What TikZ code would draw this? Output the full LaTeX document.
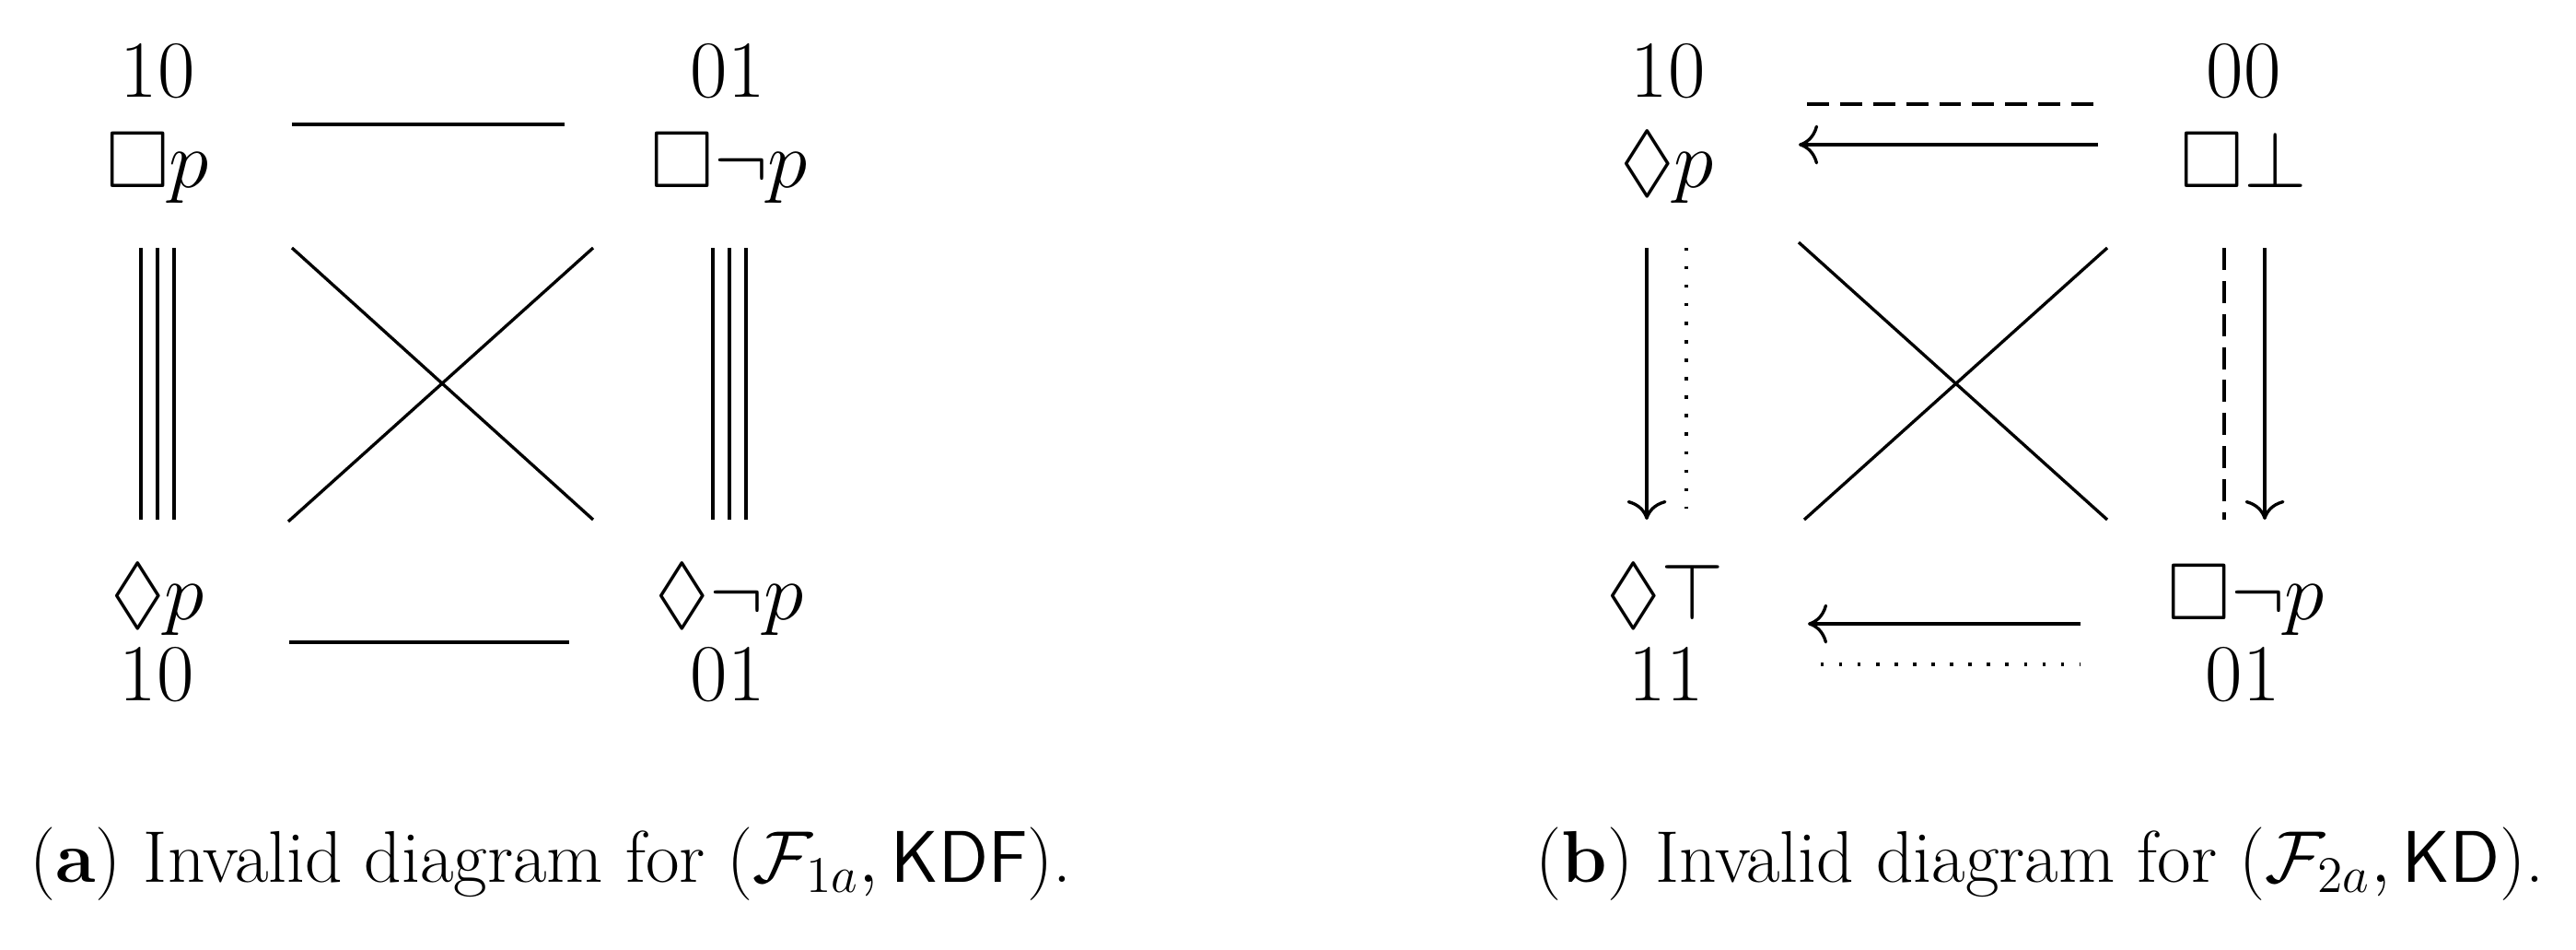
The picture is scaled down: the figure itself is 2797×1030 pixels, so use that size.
\RequirePackage{fix-cm}
\documentclass[tikz,border=0pt]{standalone}
\usepackage{amssymb}
\usepackage{fontspec}
\usetikzlibrary{arrows.meta}
\tikzset{
  lbl/.style={anchor=base, inner sep=0pt, font=\fontsize{25}{29}\selectfont},
  captxt/.style={anchor=base, inner sep=0pt, font=\fontsize{22.6}{26}\selectfont},
  conn/.style={line width=0.95pt, line cap=butt},
  arr/.style={conn, -{To[length=6pt,width=12.2pt,line width=0.95pt]}},
  dashy/.style={conn, dash pattern=on 6.8pt off 3.4pt},
  dotty/.style={conn, dash pattern=on 0.95pt off 4.75pt}
}
\begin{document}
\begin{tikzpicture}[x=0.01cm,y=-0.01cm]
\useasboundingbox (0,0) rectangle (2797,1030);
% ---------- diagram (a) ----------
\node[lbl] (an1) at (171,105) {10};
\node[lbl] (af1) at (171,203) {$\Box p$};
\node[lbl] (an2) at (790,105) {01};
\node[lbl] (af2) at (792,203) {$\Box\neg p$};
\node[lbl] (af3) at (171,672) {$\lozenge p$};
\node[lbl] (an3) at (170,760) {10};
\node[lbl] (af4) at (792,672) {$\lozenge\neg p$};
\node[lbl] (an4) at (790,760) {01};
\coordinate (A1) at (171,203);
\coordinate (A2) at (792,203);
\coordinate (A3) at (171,672);
\coordinate (A4) at (792,672);
\draw[conn] ([shift={(146,-68)}]af1.base -| A1) -- ([shift={(-179,-68)}]af2.base -| A2);
\draw[conn] ([shift={(143,25)}]af3.base -| A3) -- ([shift={(-174,25)}]af4.base -| A4);
\foreach \d in {-18,0,18}{
  \draw[conn] ([shift={(\d,66)}]af1.base -| A1) -- ([shift={(\d,-108)}]af3.base -| A3);
  \draw[conn] ([shift={(\d,66)}]af2.base -| A2) -- ([shift={(\d,-108)}]af4.base -| A4);
}
\draw[conn] ([shift={(146,66)}]af1.base -| A1) -- ([shift={(-148,-108)}]af4.base -| A4);
\draw[conn] ([shift={(142,-106)}]af3.base -| A3) -- ([shift={(-148,66)}]af2.base -| A2);
% ---------- diagram (b) ----------
\node[lbl] (bn1) at (1811,105) {10};
\node[lbl] (bf1) at (1810,203) {$\lozenge p$};
\node[lbl] (bn2) at (2436,105) {00};
\node[lbl] (bf2) at (2436,203) {$\Box\bot$};
\node[lbl] (bf3) at (1808,672) {$\lozenge\top$};
\node[lbl] (bn3) at (1809,760) {11};
\node[lbl] (bf4) at (2439,672) {$\Box\neg p$};
\node[lbl] (bn4) at (2435,760) {01};
\coordinate (B1) at (1809,203);
\coordinate (B2) at (2437,203);
\coordinate (B3) at (1809,672);
\coordinate (B4) at (2437,672);
\draw[dashy] ([shift={(153,-90)}]bf1.base -| B1) -- ([shift={(-159,-90)}]bf2.base -| B2);
\draw[arr] ([shift={(-159,-46)}]bf2.base -| B2) -- ([shift={(144,-46)}]bf1.base -| B1);
\draw[arr] ([shift={(-21,66)}]bf1.base -| B1) -- ([shift={(-21,-108)}]bf3.base -| B3);
\draw[dotty] ([shift={(22,66)}]bf1.base -| B1) -- ([shift={(22,-120)}]bf3.base -| B3);
\draw[conn] ([shift={(144,60)}]bf1.base -| B1) -- ([shift={(-149,-108)}]bf4.base -| B4);
\draw[conn] ([shift={(150,-108)}]bf3.base -| B3) -- ([shift={(-149,66)}]bf2.base -| B2);
\draw[dashy] ([shift={(-22,66)}]bf2.base -| B2) -- ([shift={(-22,-108)}]bf4.base -| B4);
\draw[arr] ([shift={(22,66)}]bf2.base -| B2) -- ([shift={(22,-108)}]bf4.base -| B4);
\draw[arr] ([shift={(-178,5)}]bf4.base -| B4) -- ([shift={(154,5)}]bf3.base -| B3);
\draw[dotty] ([shift={(168,49)}]bf3.base -| B3) -- ([shift={(-178,49)}]bf4.base -| B4);
% ---------- captions ----------
\node[captxt] (capa) at (598,957) {(\textbf{a}) Invalid diagram for $\bigl(\mathcal{F}_{1a}, \mathsf{KDF}\bigr)$.};
\node[captxt] (capb) at (2215,957) {(\textbf{b}) Invalid diagram for $\bigl(\mathcal{F}_{2a}, \mathsf{KD}\bigr)$.};
\end{tikzpicture}
\end{document}
